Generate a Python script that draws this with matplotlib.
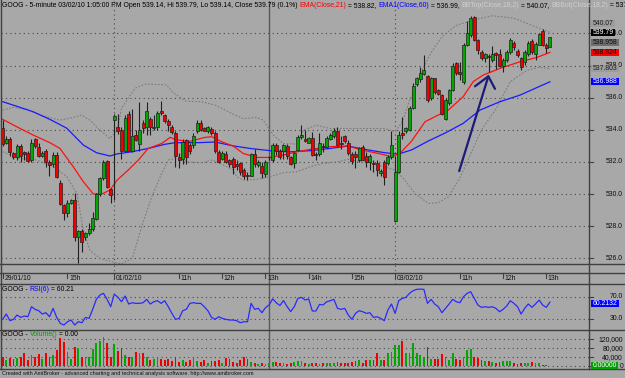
import numpy as np
import matplotlib
matplotlib.use("Agg")
import matplotlib.pyplot as plt
from matplotlib.patches import Rectangle
from matplotlib.lines import Line2D

W, H = 625, 378
BG = "#a8a8a8"
FRAME = "#404040"
GRID = "#4a4a4a"
UP = "#00a800"
DOWN = "#f00000"
WICK = "#202020"
FONT = ["Liberation Sans", "DejaVu Sans"]
FS = 4.95

# ---- 5-minute bars: 29/01 (0-30), 01/02 (31-108), 03/02 (109-152) ----
OPEN = [534.1, 533.2, 533.45, 532.55, 532.3, 533.0, 532.6, 532.55, 532.1, 533.4,
        532.95, 532.35, 532.7, 532.0, 531.85, 532.45, 530.7, 529.3, 528.85, 529.45,
        529.6, 527.35, 527.7, 527.3, 527.55, 527.8, 528.45, 530.0, 531.0, 532.05,
        530.3, 534.64, 534.2, 534.0, 532.7, 535.0, 532.65, 533.65, 533.1, 534.45,
        534.2, 534.65, 534.1, 534.15, 535.2, 534.9, 534.55, 534.15, 533.8, 532.3,
        532.2, 533.35, 533.05, 533.05, 533.9, 534.4, 534.1, 533.9, 534.05, 533.8,
        532.6, 532.2, 532.5, 532.1, 532.2, 531.85, 531.95, 531.5, 531.2, 531.15,
        532.5, 531.8, 531.75, 531.25, 532.28, 532.15, 533.05, 532.7, 532.65, 533.0,
        532.3, 531.95, 532.75, 533.55, 533.45, 533.2, 533.5, 532.5, 532.5, 533.0,
        532.9, 533.45, 533.6, 533.95, 533.2, 533.6, 533.2, 532.5, 532.5, 532.15,
        532.95, 532.4, 532.0, 531.95, 531.95, 531.3, 532.0, 531.95, 532.3, 528.3,
        531.4, 533.8, 533.95, 534.0, 535.35, 536.85, 537.15, 537.5, 537.35, 535.95,
        537.2, 536.5, 536.15, 534.7, 535.65, 536.5, 538.15, 537.6, 537.0, 539.3,
        539.9, 541.0, 539.6, 538.85, 538.45, 538.6, 538.35, 538.8, 538.75, 538.0,
        538.35, 538.85, 539.4, 538.9, 538.45, 538.2, 538.7, 539.55, 538.75, 539.3,
        540.15, 539.3, 539.14]
HIGH = [534.6, 533.6, 533.55, 532.6, 533.1, 533.1, 532.7, 532.7, 533.45, 533.5,
        533.2, 532.7, 532.8, 532.1, 532.6, 532.6, 530.9, 529.4, 529.6, 529.7,
        530.05, 527.75, 527.8, 527.65, 528.2, 528.9, 530.05, 531.05, 532.1, 532.15,
        530.35, 535.0, 535.0, 534.2, 534.9, 535.2, 535.3, 534.0, 535.75, 534.6,
        535.75, 534.8, 534.9, 535.2, 535.8, 535.0, 534.7, 534.3, 533.9, 532.55,
        533.45, 533.45, 533.2, 533.8, 534.6, 534.6, 534.2, 534.25, 534.15, 533.9,
        532.75, 532.65, 532.65, 532.2, 532.3, 532.15, 532.0, 531.6, 531.4, 532.55,
        532.8, 532.1, 532.0, 532.1, 532.4, 533.2, 533.15, 532.8, 533.1, 533.1,
        532.4, 532.6, 533.65, 534.3, 534.0, 533.55, 533.85, 532.6, 533.8, 533.2,
        533.6, 533.8, 534.1, 534.2, 533.6, 533.7, 533.35, 532.6, 532.65, 532.95,
        533.05, 532.6, 532.5, 532.1, 532.1, 531.55, 532.1, 532.45, 533.95, 532.4,
        533.9, 534.8, 534.2, 535.5, 536.9, 537.3, 537.9, 538.65, 537.4, 537.3,
        537.25, 536.55, 536.25, 535.95, 536.55, 538.15, 538.25, 538.2, 539.4, 540.8,
        541.1, 541.1, 539.65, 538.95, 538.8, 538.75, 539.2, 538.85, 539.05, 538.45,
        539.0, 539.7, 539.5, 539.05, 538.55, 538.95, 539.5, 539.65, 539.45, 540.05,
        540.25, 539.4, 539.79]
LOW = [533.0, 533.1, 532.4, 532.2, 532.1, 532.0, 532.1, 532.0, 532.0, 532.85,
       532.3, 532.3, 531.7, 531.1, 531.7, 531.0, 529.3, 528.4, 528.6, 529.4,
       527.05, 525.7, 526.4, 527.15, 527.45, 527.7, 528.4, 529.9, 530.9, 530.35,
       529.45, 529.6, 533.75, 532.2, 532.6, 532.65, 532.6, 533.3, 532.65, 533.8,
       533.65, 533.65, 534.0, 534.0, 534.95, 534.4, 533.9, 533.75, 531.7, 531.65,
       531.85, 531.85, 532.5, 532.85, 533.8, 533.9, 533.9, 533.8, 533.65, 532.55,
       531.95, 532.1, 531.95, 531.7, 531.25, 531.5, 531.2, 530.95, 530.85, 531.1,
       531.7, 531.7, 531.0, 531.05, 532.1, 532.0, 532.45, 532.2, 532.2, 532.2,
       531.8, 531.6, 532.7, 533.4, 533.25, 533.15, 532.4, 532.15, 532.4, 532.6,
       532.85, 533.35, 533.5, 533.0, 532.8, 533.2, 532.45, 531.9, 531.6, 532.0,
       532.1, 531.7, 531.5, 531.4, 531.1, 531.1, 530.55, 531.8, 532.2, 528.25,
       531.3, 533.45, 533.8, 533.9, 535.3, 536.75, 537.0, 537.4, 535.75, 535.85,
       536.25, 536.15, 534.9, 534.6, 535.55, 536.4, 537.4, 537.1, 536.85, 539.2,
       539.8, 539.5, 538.75, 538.35, 538.2, 537.6, 538.25, 537.8, 537.9, 537.6,
       538.25, 538.75, 539.0, 538.55, 537.7, 538.05, 538.6, 538.75, 538.35, 539.25,
       539.2, 538.8, 539.14]
CLOSE = [533.1, 533.45, 532.6, 532.3, 533.0, 532.4, 532.5, 532.05, 533.2, 533.0,
         532.35, 532.55, 532.0, 531.8, 532.45, 531.05, 529.4, 528.85, 529.45, 529.6,
         527.35, 527.7, 527.0, 527.55, 527.85, 528.5, 530.0, 531.0, 532.0, 530.45,
         529.95, 534.84, 533.9, 532.65, 534.75, 532.7, 533.6, 533.35, 534.0, 534.1,
         535.2, 534.15, 534.2, 535.05, 535.05, 534.55, 534.3, 533.85, 532.35, 532.1,
         533.25, 532.3, 532.65, 533.6, 534.4, 534.0, 533.95, 534.15, 533.8, 532.65,
         532.0, 532.55, 532.0, 531.9, 531.7, 531.75, 531.35, 531.1, 531.15, 532.5,
         531.9, 532.0, 531.3, 532.0, 532.32, 533.05, 532.65, 532.3, 533.05, 532.35,
         531.9, 532.55, 533.55, 533.65, 533.3, 533.5, 532.45, 532.45, 533.15, 532.95,
         533.5, 533.65, 533.9, 533.05, 533.1, 533.3, 532.55, 532.05, 532.3, 532.85,
         532.15, 532.0, 532.4, 531.9, 531.5, 531.45, 531.05, 532.3, 533.05, 531.4,
         533.7, 533.7, 534.1, 535.35, 536.75, 537.2, 537.55, 537.7, 535.85, 537.2,
         536.35, 536.2, 535.0, 535.85, 536.5, 538.0, 537.55, 537.45, 539.3, 540.0,
         540.95, 539.6, 538.95, 538.5, 538.7, 538.55, 538.75, 538.65, 538.0, 538.35,
         538.85, 539.6, 539.15, 538.65, 537.9, 538.85, 539.4, 538.85, 539.35, 539.95,
         539.3, 539.1, 539.79]
VOLUME = [39000, 27000, 34500, 30000, 34500, 42000, 60000, 27000, 49500, 39000,
          54000, 30000, 60000, 42000, 49500, 72000, 124500, 109500, 64500, 30000,
          84000, 79500, 42000, 42000, 42000, 75000, 105000, 114000, 129000, 102000,
          42000, 99000, 69000, 79500, 49500, 42000, 39000, 64500, 60000, 57000,
          39000, 27000, 33000, 39000, 30000, 27000, 33000, 24000, 42000, 19500,
          27000, 18000, 27000, 34500, 24000, 18000, 27000, 15000, 22500, 24000,
          27000, 15000, 34500, 30000, 19500, 12000, 27000, 39000, 30000, 19500,
          15000, 9000, 12000, 9000, 12000, 18000, 19500, 12000, 15000, 9000,
          12000, 18000, 24000, 21000, 15000, 9000, 15000, 12000, 9000, 12000,
          12000, 12000, 15000, 19500, 15000, 12000, 12000, 19500, 24000, 27000,
          15000, 27000, 27000, 27000, 57000, 27000, 27000, 60000, 64500, 94500,
          94500, 114000, 60000, 60000, 105000, 57000, 49500, 42000, 84000, 30000,
          30000, 30000, 54000, 42000, 27000, 57000, 30000, 27000, 42000, 72000,
          75000, 42000, 34500, 27000, 24000, 24000, 19500, 15000, 19500, 24000,
          24000, 24000, 12000, 9000, 15000, 12000, 15000, 18000, 12000, 12000,
          3000, 3000, 0]
RSI6 = [28.8, 38.5, 26.4, 28.8, 36.7, 32.4, 34.9, 33.6, 51.8, 47.0,
        44.5, 38.5, 40.9, 33.6, 48.8, 32.4, 21.5, 18.5, 24.5, 27.6,
        18.5, 24.5, 22.7, 32.4, 30.6, 47.0, 65.2, 73.0, 76.1, 65.2,
        51.8, 74.8, 68.8, 60.9, 71.2, 56.7, 59.1, 57.9, 57.9, 59.1,
        65.2, 56.7, 60.9, 62.7, 57.9, 62.7, 51.8, 39.7, 28.8, 30.6,
        44.5, 47.0, 57.9, 59.1, 57.9, 57.9, 51.8, 44.5, 32.4, 28.8,
        33.6, 30.6, 28.8, 27.6, 27.6, 26.4, 22.7, 24.5, 24.5, 57.9,
        47.0, 49.0, 40.9, 50.0, 55.0, 66.0, 59.0, 54.0, 63.0, 52.0,
        43.0, 52.0, 67.0, 68.8, 64.0, 66.0, 44.0, 44.0, 56.0, 55.0,
        60.9, 62.7, 65.2, 48.8, 47.0, 48.8, 36.7, 28.8, 39.7, 44.5,
        42.7, 39.7, 40.9, 32.4, 33.6, 30.6, 26.4, 45.8, 56.7, 39.7,
        62.7, 67.0, 68.8, 76.1, 80.9, 83.3, 83.9, 83.3, 57.9, 65.2,
        56.7, 51.8, 40.9, 48.8, 56.7, 65.2, 60.9, 59.1, 69.9, 76.1,
        79.1, 67.0, 54.8, 50.6, 51.8, 50.6, 51.8, 48.8, 42.7, 47.0,
        53.0, 62.7, 57.9, 51.8, 38.5, 48.8, 56.7, 50.6, 56.7, 63.9,
        54.8, 50.6, 60.21]

# indicator lines (bar index, price)
EMA21_X = [0, 3.9, 8.5, 13.1, 15.9, 19.6, 22.4, 25.2, 27.9, 29.8, 31.8, 34.9, 37.7, 40.4, 44.2,
           46.5, 47.9, 51.6, 56.2, 58.1, 60.8, 64, 66.8, 70.5, 74.3, 77.9, 81.7, 85.4, 90.9, 95.9,
           99.7, 104.3, 108.1, 110.4, 113.6, 117.3, 121, 123.8, 127.9, 130.7, 133.5, 138.1, 143.7, 148.3, 152]
EMA21_Y = [534.65, 534.19, 533.67, 533.2, 532.84, 531.7, 530.77, 530.0, 530.04, 530.25, 530.87, 531.5,
           532.12, 532.84, 533.15, 533.53, 533.4, 533.26, 533.53, 533.57, 533.26, 532.99, 532.53, 532.28,
           532.28, 532.43, 532.63, 532.78, 532.95, 532.99, 532.74, 532.53, 532.32, 532.55, 533.3, 534.5,
           534.92, 535.23, 536.06, 537.0, 537.41, 537.82, 538.24, 538.5, 538.82]
EMA60_X = [0, 4.8, 8.5, 13.1, 17.8, 22.4, 26.1, 29.8, 31.8, 35.8, 40.4, 45.1, 47.9, 54.3, 59, 64, 68.7,
           74.3, 79.8, 85.4, 90.9, 95.9, 100.6, 106.2, 109.9, 113.6, 118.2, 122.9, 127.9, 132.6, 138.1, 143.7, 152]
EMA60_Y = [535.75, 535.4, 535.12, 534.65, 534.1, 533.05, 532.57, 532.37, 532.5, 532.63, 532.84, 533.1,
           533.2, 533.2, 533.24, 533.0, 532.84, 532.7, 532.63, 532.7, 532.84, 532.99, 532.78, 532.57,
           532.49, 532.75, 533.3, 533.8, 534.4, 535.23, 535.75, 536.16, 536.99]
BBTOP_X = [0, 2.9, 6.7, 10.4, 15.9, 19.6, 21.9, 24.2, 27, 29.8, 31.8, 33, 36.7, 39.5, 45.5, 47.4, 51,
           55.3, 59, 64, 66.8, 70.5, 72.4, 75.2, 77.9, 81.7, 83.5, 87.2, 90.9, 95.9, 100.6, 106.2, 109,
           111, 113, 116, 119, 122, 126, 131, 136, 142, 147, 152]
BBTOP_Y = [535.23, 535.4, 535.27, 534.92, 534.6, 534.77, 534.92, 534.6, 533.98, 533.46, 533.98, 535.33,
           536.58, 536.85, 536.8, 536.3, 535.78, 535.75, 535.54, 534.98, 534.7, 534.77, 534.6, 533.67,
           533.15, 533.11, 533.98, 534.29, 534.08, 534.08, 534.08, 534.08, 533.88, 534.5, 535.8, 537.5,
           538.8, 539.8, 540.5, 540.85, 541.1, 540.95, 540.5, 540.07]
BBBOT_X = [0, 4.8, 9.4, 14.1, 17.8, 20.6, 22.4, 24.2, 27, 30, 33, 36, 38.6, 41.4, 44.2, 46, 47.9, 51.6,
           55.3, 58.1, 60.8, 64, 65, 66.8, 70.5, 74.3, 77.9, 81.7, 85.4, 89, 92.8, 95.9, 100.6, 105.3,
           109, 111.7, 114.5, 118.2, 121, 123.8, 127, 130, 133, 137, 141, 145.6, 149, 152]
BBBOT_Y = [532.63, 532.22, 532.12, 531.7, 531.08, 530.04, 527.76, 526.51, 526.0, 525.8, 525.65, 526.0,
           527.97, 529.83, 531.29, 532.12, 532.22, 532.0, 531.95, 532.12, 531.87, 531.5, 531.08, 530.87,
           530.91, 531.08, 531.33, 531.39, 531.7, 531.91, 532.0, 532.16, 532.0, 531.74, 531.5, 530.87,
           530.04, 529.42, 529.46, 529.83, 531.0, 532.5, 534.0, 535.3, 537.0, 537.7, 537.9, 537.8]

# hand-drawn arrow (bar index, price)
ARROW_X = [126.8, 134.9]
ARROW_Y = [531.43, 537.33]
HEAD_X = [131.2, 134.9, 136.75]
HEAD_Y = [536.71, 537.33, 536.55]

DAY_STARTS = [31, 109]
DATE_TICKS = [0, 18, 31, 49, 61, 73, 85, 97, 109, 127, 139, 151]
DATE_LABELS = ["29/01/10", "15h", "01/02/10", "11h", "12h", "13h", "14h", "15h",
               "03/02/10", "11h", "12h", "13h"]
SELECTED_BAR = 74
PRICE_TICKS = [526, 528, 530, 532, 534, 536, 538, 540]
RSI_TICKS = [30, 70]
VOL_TICKS = [0, 40000, 80000, 120000]
VOL_LABELS = ["0", "40,000", "80,000", "120,000"]

PRICE_BOX_VALUES = [540.07, 539.79, 538.958, 538.824, 537.803, 536.988]
PRICE_BOX_TEXT = ["540.07", "539.79", "538.958", "538.824", "537.803", "536.988"]
PRICE_BOX_FACE = ["#9c9c9c", "#000000", "#6e6e6e", "#ff0000", "#9c9c9c", "#0000ff"]
PRICE_BOX_INK = ["#202020", "#ffffff", "#101010", "#101010", "#202020", "#ffffff"]

XLIM = (-0.47, 162.86)

fig = plt.figure(figsize=(W / 100, H / 100), dpi=100, facecolor=BG)
renderer = fig.canvas.get_renderer()


def px_axes(x0, y0, x1, y1, ylim):
    ax = fig.add_axes([x0 / W, 1 - y1 / H, (x1 - x0) / W, (y1 - y0) / H])
    ax.set_facecolor(BG)
    for s in ax.spines.values():
        s.set_visible(False)
    ax.set_xticks([])
    ax.set_yticks([])
    ax.set_xlim(XLIM)
    ax.set_ylim(ylim)
    return ax


def to_px(ax, x, y):
    dx, dy = ax.transData.transform((x, y))
    return dx, H - dy


def ftext(x, y, s, **kw):
    kw.setdefault("fontsize", FS)
    kw.setdefault("family", FONT)
    return fig.text(x / W, 1 - y / H, s, **kw)


def text_width(s, size=FS):
    t = ftext(0, 0, s, fontsize=size)
    w = t.get_window_extent(renderer).width
    t.remove()
    return w


def colored_line(x, y, parts, size=FS):
    prefix = ""
    for s, c in parts:
        off = text_width(prefix + "I", size) - text_width("I", size) if prefix else 0
        ftext(x + off, y, s, color=c, fontsize=size, va="center", ha="left")
        prefix += s


def hline(y, x0=0, x1=W, color=FRAME, lw=1.0):
    fig.add_artist(Line2D([x0 / W, x1 / W], [1 - y / H, 1 - y / H], color=color, lw=lw))


def vline(x, y0, y1, color=FRAME, lw=1.0):
    fig.add_artist(Line2D([x / W, x / W], [1 - y0 / H, 1 - y1 / H], color=color, lw=lw))


def value_box(x0, yc, text, face, ink, h=7.0):
    w = text_width(text) + 3
    fig.add_artist(Rectangle((x0 / W, 1 - (yc + h / 2) / H), w / W, h / H,
                             transform=fig.transFigure, facecolor=face, edgecolor="none", zorder=5))
    ftext(x0 + 1.5, yc, text, color=ink, va="center", ha="left", zorder=6)


main = px_axes(1, 1, 589, 264, (525.645, 542.02))
dates = px_axes(1, 264, 589, 284, (0, 1))
rsi = px_axes(1, 284, 589, 330, (9.45, 93.1))
vol = px_axes(1, 330, 589, 369, (-13480, 161800))

idx = np.arange(len(CLOSE))
o, hi, lo, c = map(np.array, (OPEN, HIGH, LOW, CLOSE))
colors = np.where(c >= o, UP, DOWN)

# grid
dotted = (0, (1, 3))
for v in PRICE_TICKS:
    main.axhline(v, color=GRID, lw=0.8, ls=dotted, zorder=1)
for v in RSI_TICKS:
    rsi.axhline(v, color=GRID, lw=0.8, ls=dotted, zorder=1)
for v in VOL_TICKS:
    vol.axhline(v, color=GRID, lw=0.8, ls=dotted, zorder=1)
for d in DAY_STARTS:
    main.axvline(d, color=GRID, lw=0.8, ls=dotted, zorder=1)
    dates.axvline(d, color=GRID, lw=0.8, ls=dotted, zorder=1)
for ax in (main, dates, rsi, vol):
    ax.axvline(SELECTED_BAR, color="#5a5a5a", lw=1.0, zorder=2)

# bollinger + emas
bb_style = dict(color="#7c7c7c", lw=0.8, ls=(0, (1.5, 1.5)), zorder=2)
main.plot(BBTOP_X, BBTOP_Y, **bb_style)
main.plot(BBBOT_X, BBBOT_Y, **bb_style)
main.plot(EMA60_X, EMA60_Y, color="#1a1aff", lw=0.9, zorder=3)
main.plot(EMA21_X, EMA21_Y, color="#ff1010", lw=0.9, zorder=3)

# candles
main.vlines(idx, lo, hi, color=WICK, lw=0.8, zorder=4)
main.bar(idx, np.abs(c - o), bottom=np.minimum(o, c), width=0.82, color=colors,
         edgecolor=WICK, linewidth=0.5, zorder=5)

# annotation arrow
main.plot(ARROW_X, ARROW_Y, color="#1c1c78", lw=1.6, zorder=6, solid_capstyle="round")
main.plot(HEAD_X, HEAD_Y, color="#1c1c78", lw=1.6, zorder=6, solid_capstyle="round")

# rsi + volume
rsi.plot(idx, RSI6, color="#2a2aff", lw=0.9, zorder=3)
vol.bar(idx, VOLUME, width=0.5, color=colors, linewidth=0, zorder=3)

# frame
for y in (264, 273, 284, 330, 369):
    hline(y)
vline(1, 0, 369)
vline(589, 0, 369)

# date axis
for t, lab in zip(DATE_TICKS, DATE_LABELS):
    x, _ = to_px(main, t, 530)
    vline(x, 273, 277.5, lw=0.8)
    ftext(x + 1.5, 279, lab, va="center", ha="left", color="#101010")

# right scales
for v in PRICE_TICKS:
    _, y = to_px(main, 0, v)
    hline(y, 589, 593, lw=0.8)
    ftext(623, y, f"{v:.1f}", va="center", ha="right", color="#101010")
for v in RSI_TICKS:
    _, y = to_px(rsi, 0, v)
    hline(y, 589, 593, lw=0.8)
    ftext(623, y, f"{v:.1f}", va="center", ha="right", color="#101010")
for v, lab in zip(VOL_TICKS, VOL_LABELS):
    _, y = to_px(vol, 0, v)
    hline(y, 589, 593, lw=0.8)
    ftext(623, y, lab, va="center", ha="right", color="#101010")

# last-value boxes, pushed up where they would overlap
box_h = 9.7
box_y = [to_px(main, 0, v)[1] for v in PRICE_BOX_VALUES]
for i in range(len(box_y) - 2, -1, -1):
    box_y[i] = min(box_y[i], box_y[i + 1] - box_h)
for y, s, f, k in zip(box_y, PRICE_BOX_TEXT, PRICE_BOX_FACE, PRICE_BOX_INK):
    value_box(591, y, s, f, k)
value_box(591, to_px(rsi, 0, RSI6[-1])[1] + 1, "60.2132", "#0000ff", "#ffffff")
value_box(591, to_px(vol, 0, VOLUME[-1])[1] - 1, "0.00000", "#00a000", "#ffffff")

# titles
colored_line(2, 5.5, [
    ("GOOG - 5-minute 03/02/10 1:05:00 PM Open 539.14, Hi 539.79, Lo 539.14, Close 539.79 (0.1%) ", "#000000"),
    ("EMA(Close,21)", "#ff0000"), (" = 538.82, ", "#000000"),
    ("EMA1(Close,60)", "#0000ff"), (" = 536.99, ", "#000000"),
    ("BBTop(Close,18,2)", "#cfcfcf"), (" = 540.07, ", "#000000"),
    ("BBBot(Close,18,2)", "#cfcfcf"), (" = 537.80", "#000000")])
colored_line(2, 289.5, [("GOOG - ", "#000000"), ("RSI(6)", "#0000ff"), (" = 60.21", "#000000")])
colored_line(2, 334.5, [("GOOG - ", "#000000"), ("Volume()", "#00a000"), (" = 0.00", "#000000")])
ftext(2, 374, "Created with AmiBroker - advanced charting and technical analysis software. http://www.amibroker.com",
      fontsize=4.0, va="center", ha="left", color="#101010")

fig.savefig("out.png", dpi=100, facecolor=BG)
